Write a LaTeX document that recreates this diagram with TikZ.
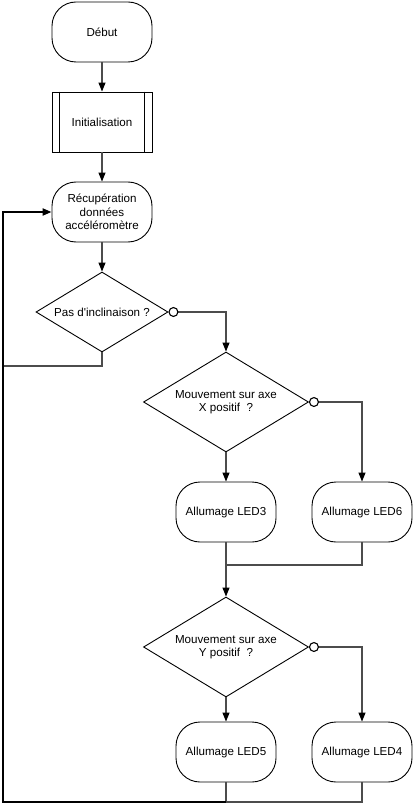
\documentclass[tikz,border=0pt]{standalone}
\usepackage{fontspec}
\setmainfont{Liberation Sans}
\usetikzlibrary{shapes.geometric,arrows.meta}

\begin{document}
\begin{tikzpicture}[x=1pt,y=-1pt,
	font=\fontsize{11.6}{13.5}\selectfont,
	term/.style={draw=black,line width=0.9pt,rounded corners=24pt,minimum width=100pt,minimum height=60pt,inner sep=0pt,align=center},
	proc/.style={draw=black,line width=0.9pt,rectangle,minimum width=100pt,minimum height=60pt,inner sep=0pt},
	test/.style={draw=black,line width=0.9pt,diamond,aspect=1.65,inner sep=0pt,align=center},
	flow/.style={draw=gray!60!black,line width=1.1pt,-{Triangle[length=9pt,width=7pt,black]}},
	noflow/.style={flow,{Circle[open,length=10pt,width=10pt,black]}-{Triangle[length=9pt,width=7pt,black]}},
	wire/.style={draw=gray!60!black,line width=1.1pt},
	back/.style={draw=black,line width=2pt}]

	\useasboundingbox (0,0) rectangle (415,805);

	\node[term] (debut) at (102,32) {Début};
	\node[proc] (init) at (102,122) {Initialisation};
	\node[term] (recup) at (102,212) {Récupération\\données\\accéléromètre};
	\node[test,minimum width=132pt,minimum height=80pt] (incl) at (102,312) {Pas d\textquotesingle inclinaison ?};
	\node[test,minimum width=165pt,minimum height=100pt] (axex) at (226,402) {Mouvement sur axe\\X positif\ \ ?};
	\node[term] (led3) at (226,512) {Allumage LED3};
	\node[term] (led6) at (362,512) {Allumage LED6};
	\node[test,minimum width=165pt,minimum height=100pt] (axey) at (226,647) {Mouvement sur axe\\Y positif\ \ ?};
	\node[term] (led5) at (226,752) {Allumage LED5};
	\node[term] (led4) at (362,752) {Allumage LED4};

	\coordinate (jx) at (226,565);
	\coordinate (jb) at (226,802);
	\coordinate (jl) at (3,366);
	\coordinate (cl) at (3,802);

	% bandes du sous-programme
	\draw[black,line width=0.9pt] ([xshift=8pt]init.north west) -- ([xshift=8pt]init.south west);
	\draw[black,line width=0.9pt] ([xshift=-8pt]init.north east) -- ([xshift=-8pt]init.south east);

	\path[flow] (debut) -- (init);
	\path[flow] (init) -- (recup);
	\path[flow] (recup) -- (incl);
	\path[noflow] (incl.east) -| (axex.north);
	\path[flow] (axex) -- (led3);
	\path[noflow] (axex.east) -| (led6.north);
	\path[wire] (led6.south) |- (jx);
	\path[flow] (led3) -- (axey);
	\path[flow] (axey) -- (led5);
	\path[noflow] (axey.east) -| (led4.north);
	\path[wire] (led4.south) |- (jb);
	\path[wire] (incl.south) |- (jl);
	\path[wire] (led5.south) -- (jb);
	\path[back] (jb) -- (cl) -- (jl);
	\path[back,-{Triangle[length=9pt,width=7pt,black]}] (jl) |- (recup.west);

\end{tikzpicture}
\end{document}
